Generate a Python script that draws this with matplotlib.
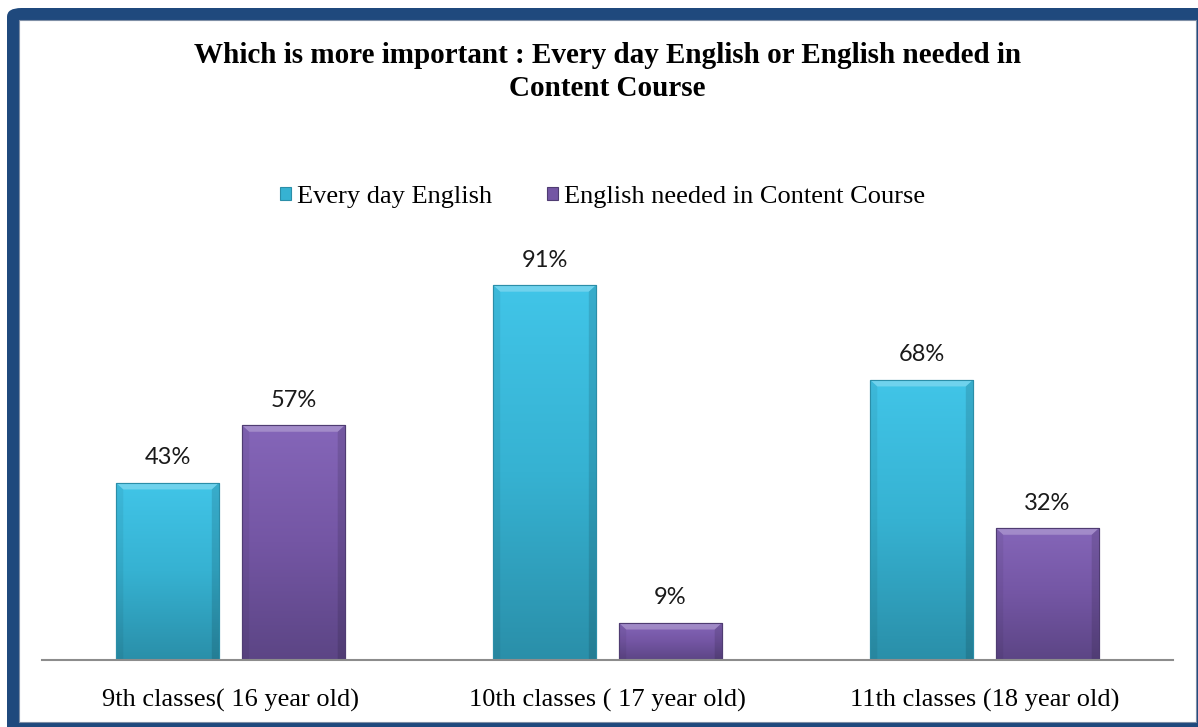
import numpy as np
import matplotlib
matplotlib.use("Agg")
import matplotlib.pyplot as plt
from matplotlib.patches import FancyBboxPatch, Rectangle
from matplotlib.colors import LinearSegmentedColormap

# data
categories = ["9th classes( 16 year old)", "10th classes ( 17 year old)", "11th classes (18 year old)"]
every_day = [43, 91, 68]
content_course = [57, 9, 32]
series_names = ["Every day English", "English needed in Content Course"]

W, H = 1198, 727
fig = plt.figure(figsize=(W / 100, H / 100), dpi=100)

# dark blue frame, cut off at right and bottom
frame = FancyBboxPatch((7 / W, -20 / H), 1.1, (H - 8 + 20) / H,
                       boxstyle="round,pad=0,rounding_size=0.012",
                       transform=fig.transFigure, facecolor="#1F497D",
                       edgecolor="none", zorder=0)
fig.patches.append(frame)
inner = Rectangle((19 / W, 5 / H), (1196 - 19) / W, (722 - 20) / H,
                  transform=fig.transFigure, facecolor="white",
                  edgecolor="#7F8FA6", linewidth=0.8, zorder=0.5)
fig.patches.append(inner)

serif = "Liberation Serif"

fig.text(0.507, 1 - 72 / H, "Which is more important : Every day English or English needed in\nContent Course",
         ha="center", va="center", fontsize=21, fontweight="bold", family=serif,
         linespacing=1.3)

ax = fig.add_axes([42 / W, 67 / H, (1173 - 42) / W, 412 / H])
ax.set_zorder(2)
ax.set_xlim(-0.5, 2.5)
ax.set_ylim(0, 100)
ax.patch.set_alpha(0)

x = np.arange(len(categories))
bw = 0.273
off = 0.167

cyan = LinearSegmentedColormap.from_list("c", ["#2A8FA9", "#36B2D2", "#41C5E8"])
purple = LinearSegmentedColormap.from_list("p", ["#5C4585", "#7456A4", "#8566B9"])

bars1 = ax.bar(x - off, every_day, bw, color="#36B2D2", edgecolor="#2B8EA8", linewidth=0.8, zorder=2)
bars2 = ax.bar(x + off, content_course, bw, color="#7456A4", edgecolor="#4F3C72", linewidth=0.8, zorder=2)

grad = np.linspace(0, 1, 256).reshape(-1, 1)
for bars, cmap in [(bars1, cyan), (bars2, purple)]:
    for b in bars:
        x0, y0, w, h = b.get_x(), b.get_y(), b.get_width(), b.get_height()
        im = ax.imshow(grad, cmap=cmap, aspect="auto", origin="lower",
                       extent=(x0, x0 + w, y0, y0 + h), zorder=2.1)
        im.set_clip_path(b)
        # bevel: light top edge, shaded sides
        bev = min(1.6, h * 0.3)
        ax.fill([x0, x0 + w, x0 + w * 0.93, x0 + w * 0.07], [y0 + h, y0 + h, y0 + h - bev, y0 + h - bev],
                color="white", alpha=0.25, lw=0, zorder=2.2)
        ax.fill([x0, x0 + w * 0.07, x0 + w * 0.07, x0], [y0, y0, y0 + h - bev, y0 + h],
                color="black", alpha=0.06, lw=0, zorder=2.2)
        ax.fill([x0 + w, x0 + w * 0.93, x0 + w * 0.93, x0 + w], [y0, y0, y0 + h - bev, y0 + h],
                color="black", alpha=0.12, lw=0, zorder=2.2)
        ax.add_patch(Rectangle((x0, y0), w, h, fill=False, edgecolor=b.get_edgecolor(), lw=0.8, zorder=2.3))
    ax.set_xlim(-0.5, 2.5)
    ax.set_ylim(0, 100)

for bars, vals in [(bars1, every_day), (bars2, content_course)]:
    for b, v in zip(bars, vals):
        ax.annotate(f"{v}%", (b.get_x() + b.get_width() / 2, b.get_height()),
                    xytext=(0, 18), textcoords="offset points", ha="center", va="center",
                    fontsize=17, family="Lato", color="#1a1a1a")

for s in ["top", "right", "left"]:
    ax.spines[s].set_visible(False)
ax.spines["bottom"].set_color("#8C8C8C")
ax.spines["bottom"].set_linewidth(1.5)
ax.spines["bottom"].set_zorder(3)
ax.set_yticks([])
ax.set_xticks(x)
ax.set_xticklabels(categories, fontsize=19, family=serif)
ax.tick_params(axis="x", length=0, pad=21)

leg = fig.legend([bars1, bars2], series_names, loc="center", bbox_to_anchor=(0.503, 1 - 197 / H),
                 ncol=2, frameon=False, prop={"family": serif, "size": 19},
                 handlelength=0.42, handleheight=0.42, handletextpad=0.2, columnspacing=2.1)

fig.savefig("out.png", dpi=100)
